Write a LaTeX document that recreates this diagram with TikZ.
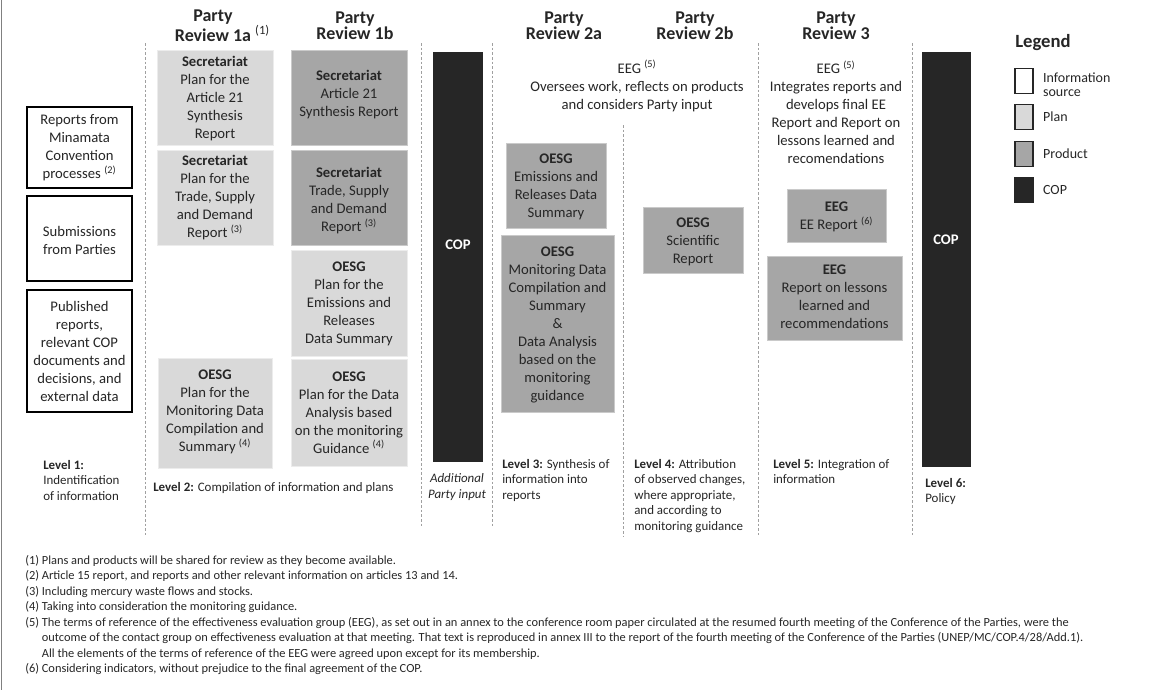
\documentclass[tikz,border=0pt]{standalone}
\usepackage{fontspec}
\setmainfont{Carlito}
\usetikzlibrary{fit,positioning}

\definecolor{planfill}{HTML}{D9D9D9}
\definecolor{productfill}{HTML}{A6A6A6}
\definecolor{copfill}{HTML}{262626}
\definecolor{sepgray}{HTML}{A0A0A0}

\newcommand\boxtxt{\fontsize{11}{13.5}\selectfont}
\newcommand\headtxt{\fontsize{13.5}{12}\selectfont\bfseries}
\newcommand\leveltxt{\fontsize{9.7}{11.6}\selectfont}
\newcommand\notetxt{\fontsize{9.3}{11.6}\selectfont}

\tikzset{
  infobox/.style={draw=black, line width=0.9pt, fill=white},
  planbox/.style={fill=planfill, draw=planfill!50!white, line width=0.6pt},
  productbox/.style={fill=productfill, draw=productfill!60!white, line width=0.6pt},
  boxtext/.style={align=center, inner sep=0pt, font=\boxtxt},
  copbar/.style={fill=copfill, draw=none, inner sep=0pt},
  coptext/.style={text=white, font=\boxtxt\bfseries},
  header/.style={align=center, font=\headtxt},
  leveltext/.style={align=left, anchor=north west, inner sep=0pt, font=\leveltxt},
  colsep/.style={draw=sepgray, line width=0.6pt, dash pattern=on 2pt off 1.5pt},
  legendkey/.style={draw=black!85, line width=0.8pt, minimum width=13.5pt, minimum height=18.5pt, inner sep=0pt},
  legendlabel/.style={align=left, inner sep=0pt, font=\fontsize{10.5}{10.5}\selectfont}
}

\begin{document}
\begin{tikzpicture}[x=0.75pt,y=-0.75pt, every node/.append style={text=black!85}]
\useasboundingbox (0,0) rectangle (1167,690);

\draw[gray, line width=1.2pt] (1.5,0) -- (1.5,690);

% column separators
\draw[colsep] (145,43) -- (145,535);
\draw[colsep] (421,43) -- (421,527);
\draw[colsep] (492,43) -- (492,527);
\draw[colsep] (623,125) -- (623,537);
\draw[colsep] (758,43) -- (758,535);
\draw[colsep] (912,43) -- (912,535);

% headers
\node[header] (hd1a) at (213,26) {Party\\Review 1a\rlap{\ \textsuperscript{\mdseries(1)}}};
\node[header] (hd1b) at (355,26) {Party\\Review 1b};
\node[header] (hd2a) at (564,26) {Party\\Review 2a};
\node[header] (hd2b) at (695,26) {Party\\Review 2b};
\node[header] (hd3) at (836,26) {Party\\Review 3};

% level 1: information sources
\filldraw[infobox] (27,107) rectangle (132,188);
\node[boxtext] (srcReports) at (79.5,147.5) {Reports from\\Minamata\\Convention\\processes \textsuperscript{(2)}};
\filldraw[infobox] (27,196) rectangle (132,281);
\node[boxtext] (srcSubmissions) at (79.5,240.5) {Submissions\\from Parties};
\filldraw[infobox] (27,290) rectangle (132,412);
\node[boxtext] (srcPublished) at (79.5,351.5) {Published\\reports,\\relevant COP\\documents and\\decisions, and\\external data};
\node[leveltext] (lvl1) at (43,460) {\textbf{Level 1:}\\Indentification\\of information};

% level 2: plans and products
\filldraw[planbox] (157,50) rectangle (273,145);
\node[boxtext] (planArticle) at (215,98.5) {\textbf{Secretariat}\\Plan for the\\Article 21\\Synthesis\\Report};
\filldraw[planbox] (157,150) rectangle (273,245);
\node[boxtext] (planTrade) at (215,198) {\textbf{Secretariat}\\Plan for the\\Trade, Supply\\and Demand\\Report \textsuperscript{(3)}};
\filldraw[planbox] (158,358) rectangle (272,468);
\node[boxtext] (planMonitoring) at (215,412) {\textbf{OESG}\\Plan for the\\Monitoring Data\\Compilation and\\Summary \textsuperscript{(4)}};
\filldraw[productbox] (291,50) rectangle (407,145);
\node[boxtext] (prodArticle) at (349,94.5) {\textbf{Secretariat}\\Article 21\\Synthesis Report};
\filldraw[productbox] (291,150) rectangle (407,245);
\node[boxtext] (prodTrade) at (349,201) {\textbf{Secretariat}\\Trade, Supply\\and Demand\\Report \textsuperscript{(3)}};
\filldraw[planbox] (291,250) rectangle (407,356);
\node[boxtext] (planEmissions) at (349,304) {\textbf{OESG}\\Plan for the\\Emissions and\\Releases\\Data Summary};
\filldraw[planbox] (291,359) rectangle (407,466);
\node[boxtext] (planAnalysis) at (349,412.5) {\textbf{OESG}\\Plan for the Data\\Analysis based\\on the monitoring\\Guidance \textsuperscript{(4)}};
\node[leveltext] (lvl2) at (153,482) {\textbf{Level 2:} Compilation of information and plans};

% additional input
\node[copbar, fit={(433,52) (483,462)}] (copbarA) {};
\node[coptext] (copA) at (458,245) {COP};
\node[align=center, font=\leveltxt\itshape] (addInput) at (457,487) {Additional\\Party input};

% level 3 and 4
\node[align=center, font=\boxtxt] (eegOversee) at (637,86) {EEG \textsuperscript{(5)}\\Oversees work, reflects on products\\and considers Party input};
\filldraw[productbox] (506,143) rectangle (606,228);
\node[boxtext] (prodEmissions) at (556,187) {\textbf{OESG}\\Emissions and\\Releases Data\\Summary};
\filldraw[productbox] (501,235) rectangle (614,412);
\node[boxtext] (prodMonitoring) at (557.5,324.5) {\textbf{OESG}\\Monitoring Data\\Compilation and\\Summary\\\&\\Data Analysis\\based on the\\monitoring\\guidance};
\node[leveltext] (lvl3) at (502,459) {\textbf{Level 3:} Synthesis of\\information into\\reports};
\filldraw[productbox] (643,207) rectangle (743,273);
\node[boxtext] (prodScientific) at (693,242) {\textbf{OESG}\\Scientific\\Report};
\node[leveltext] (lvl4) at (634,459) {\textbf{Level 4:} Attribution\\of observed changes,\\where appropriate,\\and according to\\monitoring guidance};

% level 5
\node[align=center, font=\boxtxt] (eegIntegrate) at (836,112) {EEG \textsuperscript{(5)}\\Integrates reports and\\develops final EE\\Report and Report on\\lessons learned and\\recomendations};
\filldraw[productbox] (787,189) rectangle (886,242);
\node[boxtext] (prodEE) at (836.5,217) {\textbf{EEG}\\EE Report \textsuperscript{(6)}};
\filldraw[productbox] (767,256) rectangle (902,340);
\node[boxtext] (prodLessons) at (834.5,296.5) {\textbf{EEG}\\Report on lessons\\learned and\\recommendations};
\node[leveltext] (lvl5) at (773,459) {\textbf{Level 5:} Integration of\\information};

% level 6
\node[copbar, fit={(922,52) (971,467)}] (copbarB) {};
\node[coptext] (copB) at (946,240) {COP};
\node[leveltext] (lvl6) at (925,478) {\textbf{Level 6:}\\Policy};

% legend
\node[anchor=west, inner sep=0pt, font=\fontsize{14}{16}\selectfont\bfseries] (legendTitle) at (1015,43) {Legend};
\node[legendkey, fill=white] (keySource) at (1024,81) {};
\node[legendkey, fill=planfill] (keyPlan) at (1024,117) {};
\node[legendkey, fill=productfill] (keyProduct) at (1024,154) {};
\node[legendkey, fill=copfill] (keyCop) at (1024,190) {};
\node[legendlabel, right=7pt of keySource, yshift=-2.5pt] (lblSource) {Information\\source};
\node[legendlabel, right=7pt of keyPlan] (lblPlan) {Plan};
\node[legendlabel, right=7pt of keyProduct] (lblProduct) {Product};
\node[legendlabel, right=7pt of keyCop] (lblCop) {COP};

% footnotes
\node[anchor=north west, align=left, inner sep=0pt, font=\notetxt] (notes) at (25,555) {%
(1) Plans and products will be shared for review as they become available.\\
(2) Article 15 report, and reports and other relevant information on articles 13 and 14.\\
(3) Including mercury waste flows and stocks.\\
(4) Taking into consideration the monitoring guidance.\\
(5) The terms of reference of the effectiveness evaluation group (EEG), as set out in an annex to the conference room paper circulated at the resumed fourth meeting of the Conference of the Parties, were the\\
\hphantom{(5) }outcome of the contact group on effectiveness evaluation at that meeting. That text is reproduced in annex III to the report of the fourth meeting of the Conference of the Parties (UNEP/MC/COP.4/28/Add.1).\\
\hphantom{(5) }All the elements of the terms of reference of the EEG were agreed upon except for its membership.\\
(6) Considering indicators, without prejudice to the final agreement of the COP.};
\end{tikzpicture}
\end{document}
